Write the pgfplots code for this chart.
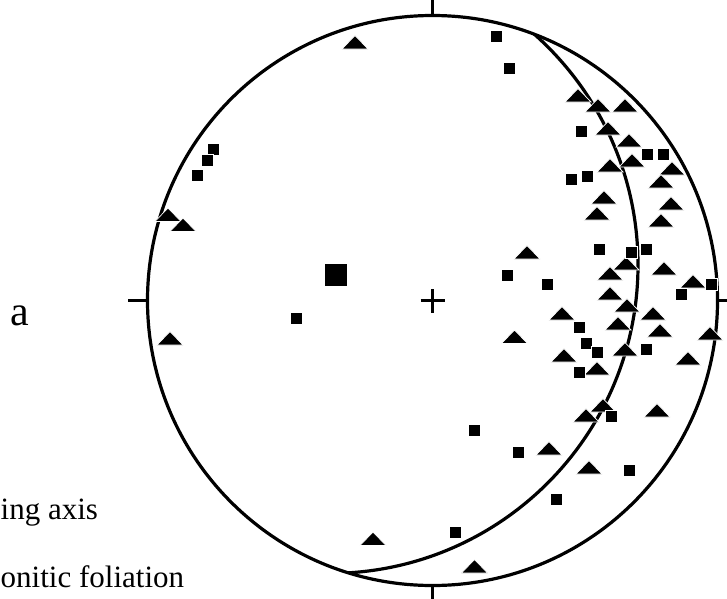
\documentclass[border=0pt]{standalone}
\usepackage{pgfplots}
\pgfplotsset{compat=1.18}
\usepackage{fontspec}
\setmainfont{Liberation Serif}
\begin{document}
\begin{tikzpicture}
\useasboundingbox (0,0) rectangle (727pt,598pt);
\clip (0,0) rectangle (727pt,598pt);
% primitive circle and great circle (frame)
\draw[line width=3.2pt] (432.5pt,297.5pt) circle[radius=285pt];
\begin{scope}
\clip (432.5pt,297.5pt) circle[radius=285pt];
\draw[line width=3.2pt] (329.5pt,333.1pt) circle[radius=308.5pt];
\end{scope}
% ticks
\draw[line width=3pt] (432.5pt,600pt) -- (432.5pt,582pt);
\draw[line width=3pt] (432.5pt,14pt) -- (432.5pt,-2pt);
\draw[line width=3pt] (128pt,297.5pt) -- (147.5pt,297.5pt);
\draw[line width=3pt] (717.5pt,297.5pt) -- (732pt,297.5pt);
% centre cross
\draw[line width=2.6pt] (420.5pt,297.5pt) -- (444.5pt,297.5pt);
\draw[line width=2.6pt] (432.5pt,285.5pt) -- (432.5pt,309.5pt);
% texts
\node[anchor=base west, inner sep=0pt, font=\fontsize{42}{42}\selectfont] at (10pt,273pt) {a};
\node[anchor=base west, inner sep=0pt, font=\fontsize{31}{31}\selectfont] at (0.5pt,79pt) {ing axis};
\node[anchor=base west, inner sep=0pt, font=\fontsize{31}{31}\selectfont] at (0.5pt,11pt) {onitic foliation};
\begin{axis}[
  at={(0,0)}, anchor=south west,
  scale only axis, width=727pt, height=598pt,
  xmin=0, xmax=727, ymin=0, ymax=598, y dir=reverse,
  hide axis, clip=false,
]
\addplot[only marks, mark=triangle*, mark size=9pt,
  mark options={xscale=1.67, fill=black, draw=white, line width=0.7pt}] coordinates {
(355,44.5) (168,217) (183,227) (170,340.5) (373,541) (474.5,568.5)
(514.5,339) (527,254.5) (562,315.5) (564,357.5) (597,370.5) (625,351.5)
(664,270.5) (693,283.5) (710,335.5) (653,315.5) (660,332.5) (618,325.5)
(688,360.5) (586,417.5) (603,407.5) (657,412.5) (549,450.5) (589,469.5)
(578,97.5) (598,107.5) (625,107.5) (608,130.5) (629,142.5) (632,162.5)
(610,167.5) (672,170.5) (661,183.5) (604,199.5) (597,215.5) (661,222.5)
(671,205.5) (626,265.5) (610,275.5) (610,295.5) (627,307.5)
};
\addplot[only marks, mark=square*, mark size=5.8pt,
  mark options={fill=black, draw=white, line width=0.6pt}] coordinates {
(496,36.5) (509,68) (581,131) (647.5,154) (663.5,154) (571,179) (587.5,176)
(213.5,149) (207,160) (197,175) (599,249) (631,252) (646,249)
(507.5,275) (547.5,284.5) (681,294) (711,284.5) (579,327.5) (586,343.5)
(597.5,352.5) (579,372.5) (646,349.5) (611,416) (474,430) (518.5,452.5)
(629.5,470.5) (556.5,499) (455,532) (296.5,318.5)
};
\addplot[only marks, mark=square*, mark size=11.5pt,
  mark options={fill=black, draw=white, line width=0.6pt}] coordinates {
(335.5,274.5)
};
\end{axis}
\end{tikzpicture}
\end{document}
